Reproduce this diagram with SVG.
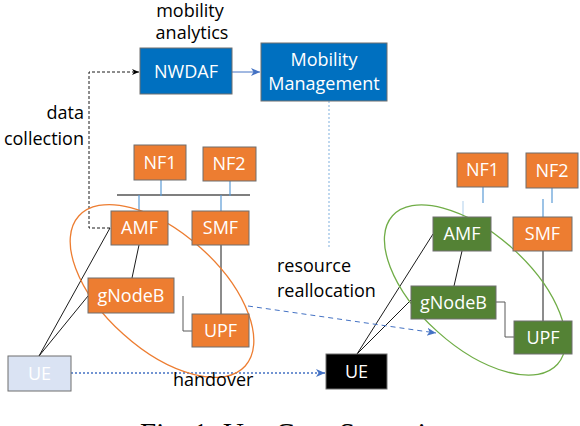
<svg xmlns="http://www.w3.org/2000/svg" width="580" height="426" viewBox="0 0 580 426">
<defs>
<style>
.box{stroke:#6F6F6F;stroke-width:1}
.blue{fill:#0070C0}
.orange{fill:#ED7D31}
.green{fill:#548235}
.lbl{font-family:"Open Sans","Noto Sans",sans-serif;font-size:18px;fill:#FFFFFF;text-anchor:middle}
.txt{font-family:"Open Sans","Noto Sans",sans-serif;font-size:18px;fill:#000000}
.ln{stroke:#000;stroke-width:0.9;fill:none}
.gr{stroke:#595959;stroke-width:1;fill:none}
.bl{stroke:#5B9BD5;stroke-width:1.2;fill:none}
</style>
<marker id="ab" markerWidth="8" markerHeight="8" refX="7" refY="4" orient="auto" markerUnits="userSpaceOnUse">
<path d="M0,1 L7,4 L0,7 L2,4 Z" fill="#000"/>
</marker>
<marker id="abl" markerWidth="10" markerHeight="10" refX="9" refY="5" orient="auto" markerUnits="userSpaceOnUse">
<path d="M0,1 L9,5 L0,9 L2.5,5 Z" fill="#4472C4"/>
</marker>
</defs>

<g id="connectors">
<polyline class="ln" points="110,228 89,228 89,72 139,72" stroke-dasharray="3,2" marker-end="url(#ab)"/>
<line x1="232" y1="72" x2="260" y2="72" stroke="#4472C4" stroke-width="1" marker-end="url(#abl)"/>
<line x1="329" y1="101" x2="329" y2="248" stroke="#9DC3E6" stroke-width="1.3" stroke-dasharray="2,2"/>
<line x1="117" y1="195" x2="250" y2="195" stroke="#000" stroke-width="1.2"/>
<line class="bl" x1="161" y1="180" x2="161" y2="196"/>
<line class="bl" x1="230" y1="181" x2="230" y2="196"/>
<line class="bl" x1="139" y1="195" x2="139" y2="211"/>
<line class="bl" x1="221" y1="195" x2="221" y2="211"/>
<line class="ln" x1="139" y1="245" x2="132" y2="278"/>
<line class="ln" x1="221" y1="245" x2="221" y2="314"/>
<polyline class="gr" points="183,296 183,331 192,331"/>
<line class="ln" x1="39" y1="356" x2="110" y2="228"/>
<line class="ln" x1="39" y1="356" x2="88" y2="296"/>
<line class="bl" x1="483" y1="187" x2="483" y2="203"/>
<line class="bl" x1="552" y1="188" x2="552" y2="203"/>
<line stroke="#BDD7EE" stroke-width="1.2" x1="463" y1="201" x2="463" y2="217"/>
<line class="bl" x1="543" y1="199" x2="543" y2="217"/>
<line class="ln" x1="462" y1="251" x2="454" y2="286"/>
<line class="ln" x1="543" y1="251" x2="543" y2="321"/>
<polyline class="gr" points="496,302 505,302 505,337 514,337"/>
<line class="ln" x1="357" y1="354" x2="433" y2="234"/>
<line class="ln" x1="357" y1="354" x2="411" y2="300"/>
<line x1="248" y1="306" x2="436" y2="333" stroke="#4472C4" stroke-width="1" stroke-dasharray="5,4" marker-end="url(#abl)"/>
<line x1="71" y1="373" x2="325" y2="373" stroke="#4472C4" stroke-width="1.4" stroke-dasharray="2,2" marker-end="url(#abl)"/>
</g>

<g id="ellipses">
<ellipse cx="162" cy="291" rx="112" ry="58" transform="rotate(42 162 291)" fill="none" stroke="#ED7D31" stroke-width="1.3"/>
<ellipse cx="475" cy="290" rx="111" ry="56" transform="rotate(42 475 290)" fill="none" stroke="#70AD47" stroke-width="1.3"/>
</g>

<g id="nwdaf"><rect class="box blue" x="140" y="48" width="92" height="46"/><text class="lbl" x="186" y="78">NWDAF</text></g>
<g id="mm"><rect class="box blue" x="261" y="43" width="126" height="58"/><text class="lbl" x="324" y="66">Mobility</text><text class="lbl" x="324" y="90">Management</text></g>

<g id="nf1-left"><rect class="box orange" x="134" y="145" width="52" height="35"/><text class="lbl" x="160" y="169">NF1</text></g>
<g id="nf2-left"><rect class="box orange" x="203" y="147" width="53" height="34"/><text class="lbl" x="229" y="170">NF2</text></g>
<g id="amf-left"><rect class="box orange" x="111" y="211" width="57" height="34"/><text class="lbl" x="139.5" y="234">AMF</text></g>
<g id="smf-left"><rect class="box orange" x="192" y="211" width="57" height="34"/><text class="lbl" x="220.5" y="234">SMF</text></g>
<g id="gnb-left"><rect class="box orange" x="88" y="278" width="86" height="35"/><text class="lbl" x="131" y="302">gNodeB</text></g>
<g id="upf-left"><rect class="box orange" x="192" y="314" width="57" height="33"/><text class="lbl" x="220.5" y="337">UPF</text></g>
<g id="ue-left"><rect class="box" fill="#DAE3F3" x="8" y="356" width="63" height="35"/><text class="lbl" x="39.5" y="380">UE</text></g>

<g id="nf1-right"><rect class="box orange" x="457" y="153" width="51" height="34"/><text class="lbl" x="482.5" y="176">NF1</text></g>
<g id="nf2-right"><rect class="box orange" x="526" y="153" width="52" height="35"/><text class="lbl" x="552" y="177">NF2</text></g>
<g id="amf-right"><rect class="box green" x="433" y="217" width="58" height="34"/><text class="lbl" x="462" y="240">AMF</text></g>
<g id="smf-right"><rect class="box orange" x="513" y="217" width="59" height="34"/><text class="lbl" x="542.5" y="240">SMF</text></g>
<g id="gnb-right"><rect class="box green" x="411" y="286" width="85" height="33"/><text class="lbl" x="453.5" y="309">gNodeB</text></g>
<g id="upf-right"><rect class="box green" x="514" y="321" width="58" height="33"/><text class="lbl" x="543" y="344">UPF</text></g>
<g id="ue-right"><rect class="box" fill="#000000" x="326" y="354" width="61" height="35"/><text class="lbl" x="356.5" y="378">UE</text></g>

<g id="labels">
<text class="txt" x="190" y="17" text-anchor="middle">mobility</text>
<text class="txt" x="192" y="39" text-anchor="middle">analytics</text>
<text class="txt" x="84" y="119" text-anchor="end">data</text>
<text class="txt" x="84" y="145" text-anchor="end">collection</text>
<text class="txt" x="277" y="272">resource</text>
<text class="txt" x="277" y="297">reallocation</text>
<text class="txt" x="173" y="386">handover</text>
<text x="140" y="443" font-family="'Liberation Serif',serif" font-size="29" fill="#000">Fig. 1: Use Case Scenario</text>
</g>
</svg>
